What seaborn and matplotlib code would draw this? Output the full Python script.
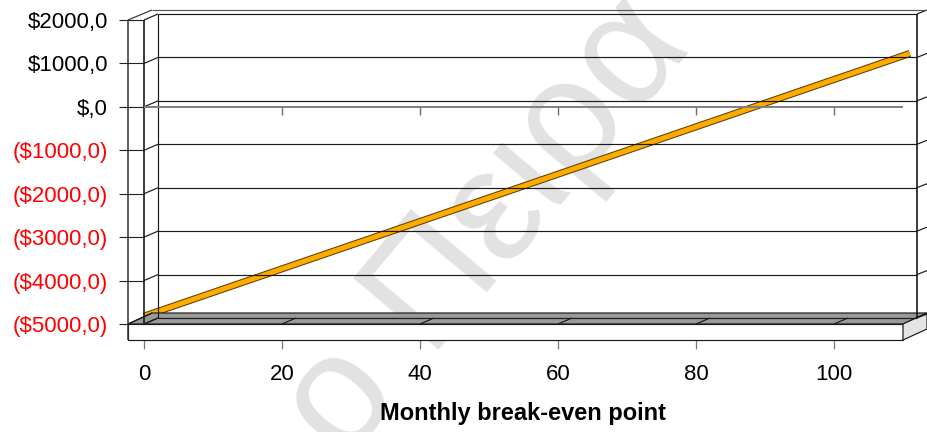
import matplotlib
matplotlib.use("Agg")
import matplotlib.pyplot as plt
import matplotlib.transforms as mtransforms
import matplotlib.patheffects as pe
from matplotlib.patches import Polygon
from matplotlib.lines import Line2D
import seaborn as sns

# Monthly profit / loss as a function of units sold
units = [0, 20, 40, 60, 80, 100, 111]
profit = [-4820, -3730, -2640, -1550, -460, 630, 1230]

y_ticks = [2000, 1000, 0, -1000, -2000, -3000, -4000, -5000]
y_labels = ["$2000,0", "$1000,0", "$,0", "($1000,0)", "($2000,0)",
            "($3000,0)", "($4000,0)", "($5000,0)"]
x_ticks = [0, 20, 40, 60, 80, 100]
x_labels = ["0", "20", "40", "60", "80", "100"]
x_title = "Monthly break-even point"
watermark = "ο Πειρα"

sns.set_style("white")
plt.rcParams["font.family"] = ["Liberation Sans", "DejaVu Sans"]
plt.rcParams["text.color"] = "black"
plt.rcParams["axes.labelcolor"] = "black"
plt.rcParams["xtick.color"] = "black"
plt.rcParams["ytick.color"] = "black"

W, H, DPI = 927, 432, 100
fig = plt.figure(figsize=(W / DPI, H / DPI), dpi=DPI)
fig.patch.set_facecolor("white")
ax = fig.add_axes([144 / W, 1 - 324 / H, (903 - 144) / W, (324 - 20) / H])

XMIN, XMAX = 0, 110
YMIN, YMAX = -5000, 2000

# the break-even line
sns.lineplot(x=units, y=profit, ax=ax, color="#FFAA00", linewidth=3.6,
             solid_capstyle="butt", clip_on=False, zorder=6)
ax.lines[-1].set_path_effects([
    pe.Stroke(linewidth=5.1, foreground="#5a4300"),
    pe.Normal(),
])

ax.set_xlim(XMIN, XMAX)
ax.set_ylim(YMIN, YMAX)
ax.patch.set_visible(False)
for s in ax.spines.values():
    s.set_visible(False)

ax.set_yticks(y_ticks)
ax.set_yticklabels(y_labels, fontsize=16)
for lbl, t in zip(ax.get_yticklabels(), y_ticks):
    lbl.set_color("#FF0000" if t < 0 else "black")
ax.tick_params(axis="y", length=18, width=0.8, color="#222222", pad=8, left=True)

ax.set_xticks(x_ticks)
ax.set_xticklabels(x_labels, fontsize=16, color="black")
ax.tick_params(axis="x", length=18, width=0.9, color="#7a7a7a", pad=11, bottom=True)
ax.set_xlabel(x_title, fontsize=17, fontweight="bold", labelpad=12, color="black")
ax.set_ylabel("")

fig.canvas.draw()
ident = mtransforms.IdentityTransform()


def px(x, y, dx=0.0, dy=0.0):
    """Display position of a data point, nudged by a pixel offset."""
    X, Y = ax.transData.transform((x, y))
    return (X + dx, Y + dy)


def seg(p, q, color="#1a1a1a", lw=0.85, z=2):
    fig.add_artist(Line2D([p[0], q[0]], [p[1], q[1]], transform=ident,
                          color=color, linewidth=lw, zorder=z,
                          solid_capstyle="butt"))


def poly(points, face, z=2, edge="#1a1a1a", lw=0.85):
    fig.add_artist(Polygon(points, closed=True, transform=ident,
                           facecolor=face, edgecolor=edge, linewidth=lw,
                           zorder=z))


D = (14, 6)    # depth of the back wall
O = (24, 10)   # depth of the outer box

# floor slab
poly([px(XMIN, YMIN, -16, 0), px(XMIN, YMIN, 8, 11),
      px(XMAX, YMIN, O[0], 11), px(XMAX, YMIN)], "#999999", z=1.5)
poly([px(XMIN, YMIN, -16, 0), px(XMAX, YMIN),
      px(XMAX, YMIN, 0, -16), px(XMIN, YMIN, -16, -16)], "white", z=1.5)
poly([px(XMAX, YMIN), px(XMAX, YMIN, O[0], 11),
      px(XMAX, YMIN, O[0], -5), px(XMAX, YMIN, 0, -16)], "#e4e4e4", z=1.5)

# back wall gridlines, side-wall diagonals and right stubs
for t in y_ticks:
    seg(px(XMIN, t, *D), px(XMAX, t, *D))
    seg(px(XMIN, t), px(XMIN, t, *D))
    seg(px(XMAX, t, *D), px(XMAX, t, *O))
seg(px(XMIN, YMIN, *D), px(XMIN, YMAX, *D))
seg(px(XMAX, YMIN, *D), px(XMAX, YMAX, *D), lw=1.2)

# front axis line
seg(px(XMIN, YMIN), px(XMIN, YMAX), lw=1.2)

# outer box
seg(px(XMIN, YMAX, -16, 0), px(XMIN, YMIN, -16, -16), color="#333333", lw=1.1)
seg(px(XMIN, YMAX, -16, 0), px(XMIN, YMAX, 8, 10), color="#333333")
seg(px(XMIN, YMAX, 8, 10), px(XMAX, YMAX, *O), color="#555555")
seg(px(XMIN, YMIN, -16, 0), px(XMIN, YMIN, 8, 11))

# category depth marks on the floor
for x in x_ticks:
    seg(px(x, YMIN), px(x, YMIN, *D), z=2.2)

# zero line with its small tick marks
seg(px(XMIN, 0), px(XMAX, 0), color="#7f7f7f", lw=1.4, z=2.5)
for x in x_ticks[1:]:
    seg(px(x, 0), px(x, 0, 0, -8), color="#6f6f6f", lw=1.0, z=2.5)

# faint document watermark
ax.text(487 / W, 1 - 228 / H, watermark, transform=fig.transFigure,
        fontsize=116, color="#e2e2e2", rotation=50, ha="center",
        va="center", rotation_mode="anchor", zorder=0.5, clip_on=False)

fig.savefig("out.png", dpi=DPI, facecolor="white")
